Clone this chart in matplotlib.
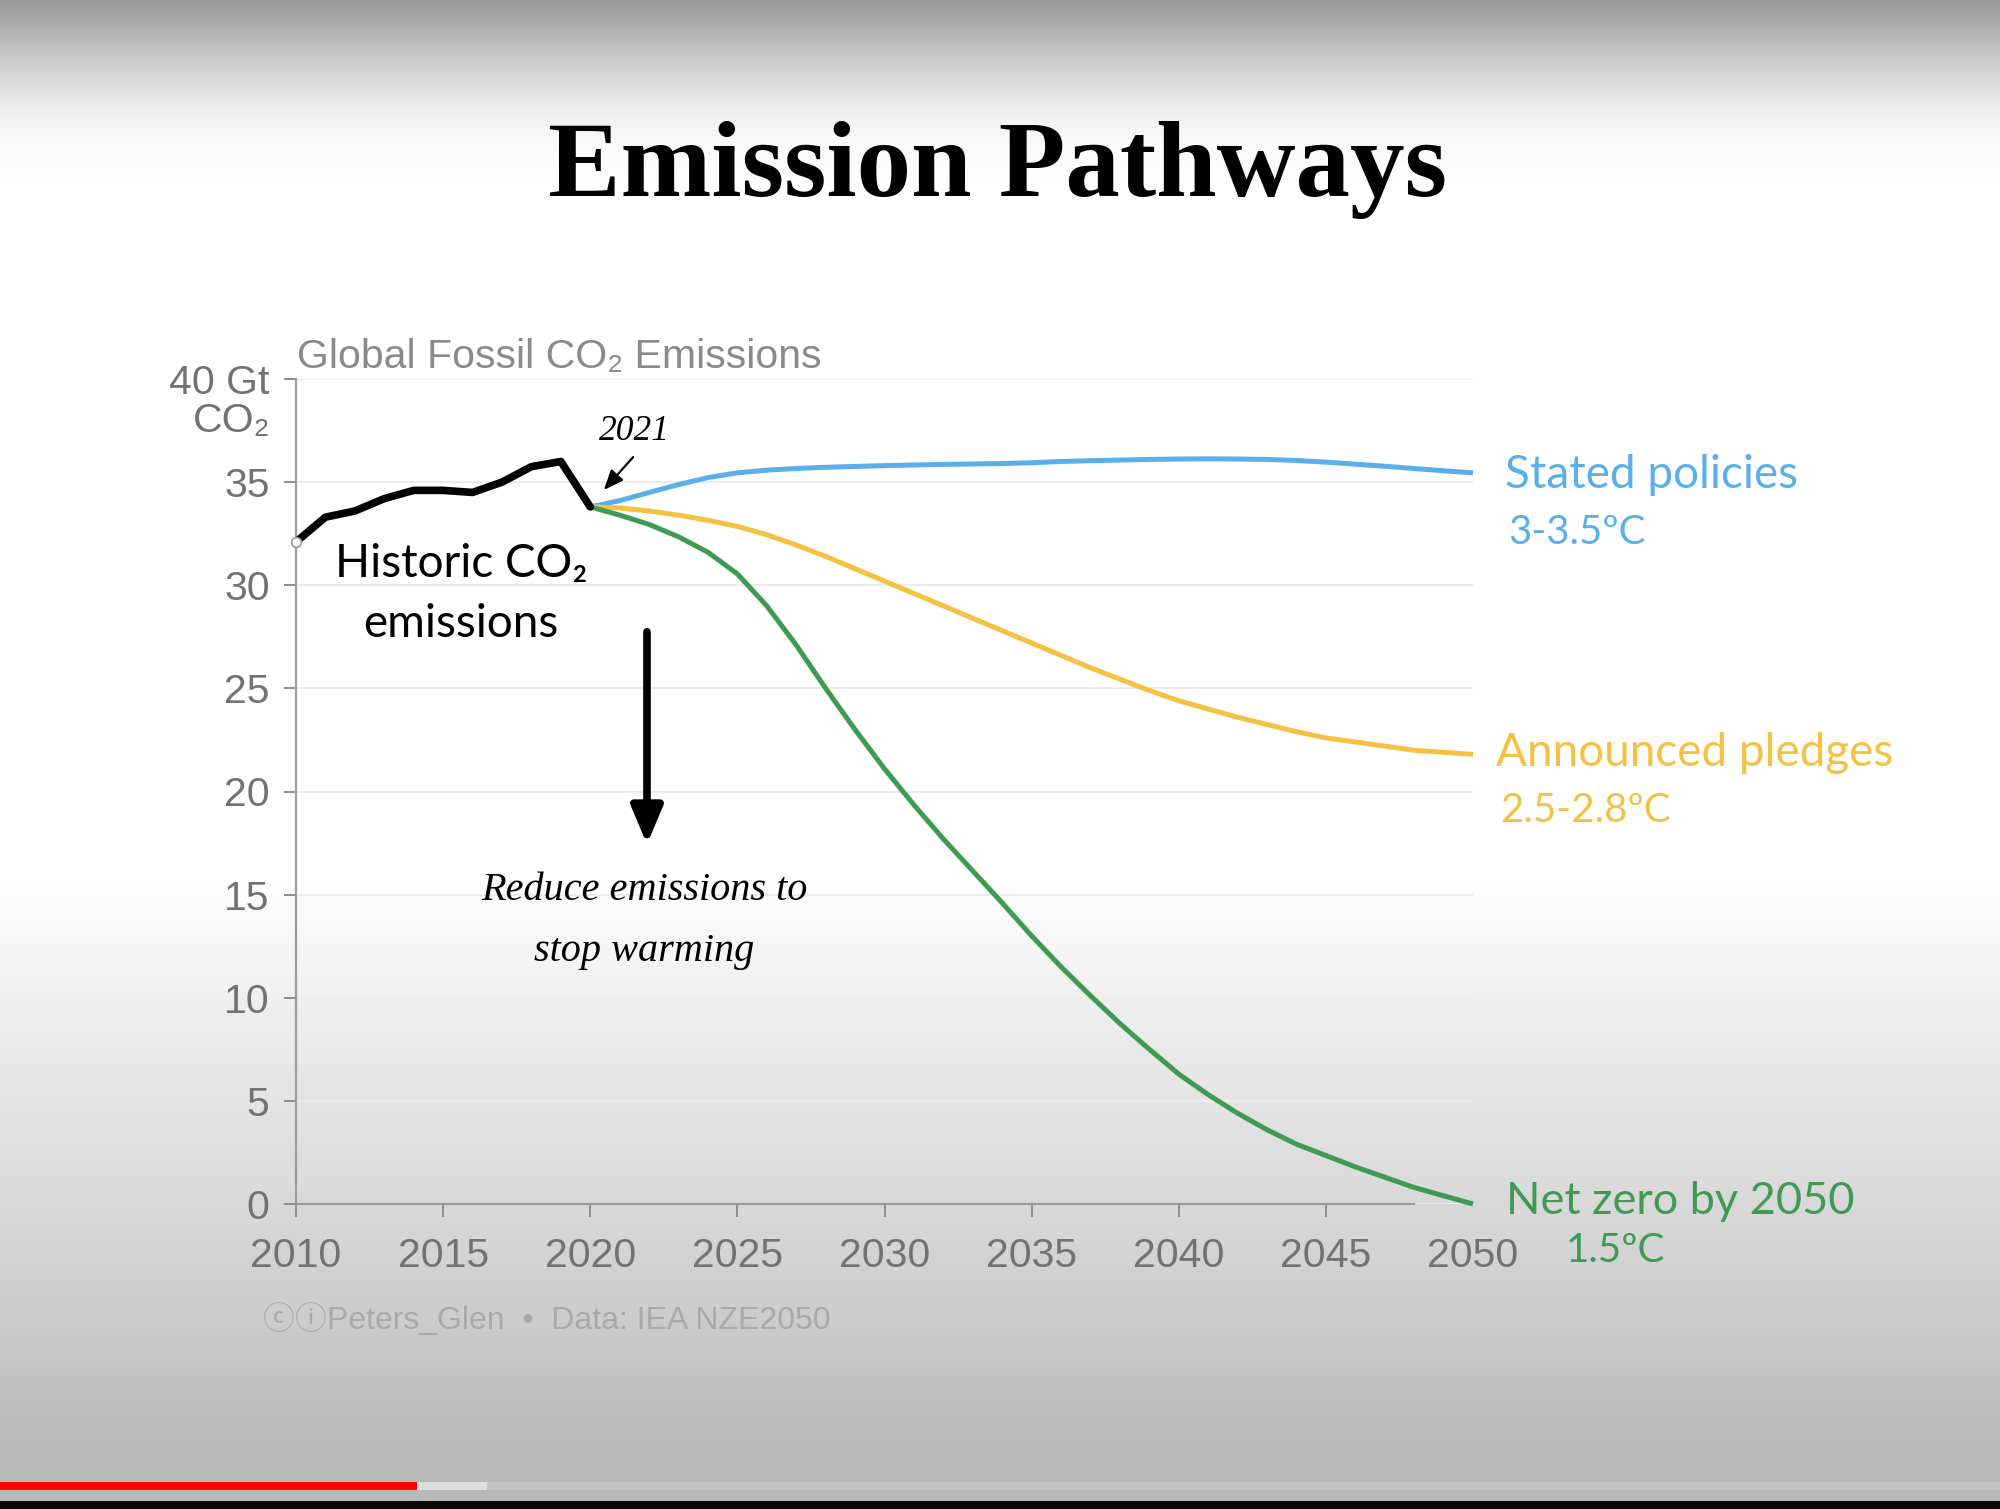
import numpy as np
import matplotlib.pyplot as plt

# Global fossil CO2 emissions, Gt CO2
years_hist = list(range(2010, 2021))
hist_co2 = [32.1, 33.3, 33.6, 34.2, 34.6, 34.6, 34.5, 35.0, 35.75, 36.0, 33.8]

years_proj = list(range(2020, 2051))
stated = [33.8, 34.1, 34.5, 34.88, 35.22, 35.45, 35.58, 35.66, 35.72, 35.76, 35.8,
          35.83, 35.86, 35.88, 35.9, 35.94, 36.0, 36.04, 36.07, 36.1, 36.12,
          36.13, 36.12, 36.1, 36.05, 35.97, 35.87, 35.77, 35.66, 35.55, 35.45]
pledges = [33.8, 33.75, 33.6, 33.4, 33.15, 32.85, 32.45, 31.95, 31.4, 30.8, 30.2,
           29.6, 29.0, 28.4, 27.8, 27.2, 26.6, 26.0, 25.45, 24.9, 24.4,
           24.0, 23.6, 23.25, 22.9, 22.6, 22.4, 22.2, 22.0, 21.9, 21.8]
net_zero = [33.8, 33.4, 32.95, 32.35, 31.6, 30.55, 29.0, 27.1, 25.0, 23.0, 21.1,
            19.35, 17.7, 16.15, 14.6, 13.0, 11.5, 10.1, 8.75, 7.5, 6.3,
            5.3, 4.4, 3.6, 2.9, 2.35, 1.8, 1.3, 0.8, 0.4, 0.0]

y_ticks = [0, 5, 10, 15, 20, 25, 30, 35, 40]
y_labels = ['0', '5', '10', '15', '20', '25', '30', '35', '40 Gt']
x_ticks = [2010, 2015, 2020, 2025, 2030, 2035, 2040, 2045, 2050]

BLUE = '#5aafe8'
YELLOW = '#f5c143'
GREEN = '#3f9a52'
GREY = '#727272'

W, H = 2000, 1509
SANS = ['Liberation Sans', 'DejaVu Sans']
ICONS = ['Liberation Sans', 'Noto Sans CJK JP', 'DejaVu Sans']
CAL = ['Lato', 'DejaVu Sans']
SERIF = ['Liberation Serif', 'DejaVu Serif']


def fx(px):
    return px / W


def fy(py):
    return 1 - py / H


fig = plt.figure(figsize=(20, 15.09), dpi=100)

# screenshot background: grey fade at the top and bottom, video progress bar
bg = fig.add_axes([0, 0, 1, 1], zorder=-5)
rows = np.arange(H)
stops_y = [0, 20, 45, 70, 95, 120, 150, 180, 880, 1020, 1204, 1320, 1403, 1480]
stops_v = [0.60, 0.66, 0.75, 0.83, 0.90, 0.955, 0.985, 1.0, 1.0, 0.93, 0.85, 0.80, 0.745, 0.72]
shade = np.interp(rows, stops_y, stops_v)
grad = np.repeat(shade[:, None], 4, axis=1)
bg.imshow(np.dstack([grad, grad, grad]), aspect='auto', extent=[0, W, H, 0])
bg.add_patch(plt.Rectangle((0, 1482), W, 8, color='#c4c4c4', lw=0))
bg.add_patch(plt.Rectangle((417, 1482), 70, 8, color='#dedede', lw=0))
bg.add_patch(plt.Rectangle((0, 1482), 417, 8, color='#ff0000', lw=0))
bg.add_patch(plt.Rectangle((0, 1490), W, 11, color='#b9b9b9', lw=0))
bg.add_patch(plt.Rectangle((0, 1501), W, 8, color='#0a0a0a', lw=0))
bg.set_xlim(0, W)
bg.set_ylim(H, 0)
bg.axis('off')

ax = fig.add_axes([fx(296), fy(1204), fx(1473) - fx(296), fy(379) - fy(1204)])
ax.set_facecolor('none')

line_kw = dict(lw=3.6, solid_capstyle='butt', solid_joinstyle='round', clip_on=False, zorder=3)
ax.plot(years_proj, stated, color=BLUE, **line_kw)
ax.plot(years_proj, pledges, color=YELLOW, **line_kw)
ax.plot(years_proj, net_zero, color=GREEN, **line_kw)
ax.plot(years_hist, hist_co2, color='black', lw=5.5, solid_joinstyle='round',
        solid_capstyle='round', clip_on=False, zorder=4)
ax.plot(years_hist[:1], hist_co2[:1], 'o', mfc='white', mec='#9a9a9a', ms=7, mew=1.2,
        clip_on=False, zorder=5)

ax.set_xlim(2010, 2050)
ax.set_ylim(0, 40)
ax.set_yticks(y_ticks)
ax.set_yticklabels(y_labels)
ax.set_xticks(x_ticks)
ax.set_xticklabels([str(x) for x in x_ticks])
ax.tick_params(axis='both', colors='#8c8c8c', labelcolor=GREY, labelsize=29.5,
               width=1.4, length=9, direction='out')
ax.tick_params(axis='y', pad=10)
ax.tick_params(axis='x', pad=15)
for lab in ax.get_xticklabels() + ax.get_yticklabels():
    lab.set_family(SANS)
ax.xaxis.get_major_ticks()[-1].tick1line.set_visible(False)

ax.grid(axis='y', color='#ececec', lw=1.5)
ax.set_axisbelow(True)
for side in ['top', 'right']:
    ax.spines[side].set_visible(False)
for side in ['left', 'bottom']:
    ax.spines[side].set_color('#9c9c9c')
    ax.spines[side].set_linewidth(1.6)
ax.spines['bottom'].set_bounds(2010, 2048)

# titles
fig.text(fx(998), fy(170), 'Emission Pathways', ha='center', va='center',
         fontsize=78.5, fontweight='bold', family=SERIF, color='black')
fig.text(fx(297), fy(357), 'Global Fossil CO₂ Emissions', ha='left', va='center',
         fontsize=29.5, family=SANS, color='#8a8a8a')
fig.text(fx(270), fy(421), 'CO₂', ha='right', va='center',
         fontsize=29.5, family=SANS, color=GREY)

# scenario labels
fig.text(fx(1505), fy(475), 'Stated policies', color=BLUE, fontsize=33, family=CAL, va='center')
fig.text(fx(1508), fy(532), '3-3.5ºC', color=BLUE, fontsize=29, family=CAL, va='center')
fig.text(fx(1496), fy(753), 'Announced pledges', color=YELLOW, fontsize=33, family=CAL, va='center')
fig.text(fx(1500), fy(810), '2.5-2.8ºC', color=YELLOW, fontsize=29, family=CAL, va='center')
fig.text(fx(1506), fy(1202), 'Net zero by 2050', color=GREEN, fontsize=32.5, family=CAL, va='center')
fig.text(fx(1566), fy(1251), '1.5ºC', color=GREEN, fontsize=29, family=CAL, va='center')

fig.text(fx(461), fy(564), 'Historic CO₂', color='black', fontsize=33, family=CAL,
         ha='center', va='center')
fig.text(fx(461), fy(624), 'emissions', color='black', fontsize=33, family=CAL,
         ha='center', va='center')

# 2021 marker
fig.text(fx(634), fy(432), '2021', ha='center', va='center', fontsize=25.5,
         style='italic', family=SERIF, color='black')
ax.annotate('', xy=(fx(602), fy(492)), xycoords='figure fraction',
            xytext=(fx(635), fy(455)), textcoords='figure fraction',
            arrowprops=dict(arrowstyle='-|>,head_length=0.6,head_width=0.25',
                            color='black', lw=1.6, mutation_scale=20))

# reduce emissions arrow
ax.annotate('', xy=(fx(647), fy(847)), xycoords='figure fraction',
            xytext=(fx(647), fy(629)), textcoords='figure fraction',
            arrowprops=dict(arrowstyle='-|>,head_length=0.9,head_width=0.38',
                            color='black', lw=5.5, mutation_scale=25))
fig.text(fx(644), fy(890), 'Reduce emissions to', ha='center', va='center', fontsize=29,
         style='italic', family=SERIF, color='black')
fig.text(fx(644), fy(952), 'stop warming', ha='center', va='center', fontsize=29,
         style='italic', family=SERIF, color='black')

# credit
fig.text(fx(263), fy(1319), 'ⓒⓘPeters_Glen  •  Data: IEA NZE2050', ha='left', va='center',
         fontsize=23, family=ICONS, color='#a9a9a9')

fig.savefig('out.png', dpi=100)
